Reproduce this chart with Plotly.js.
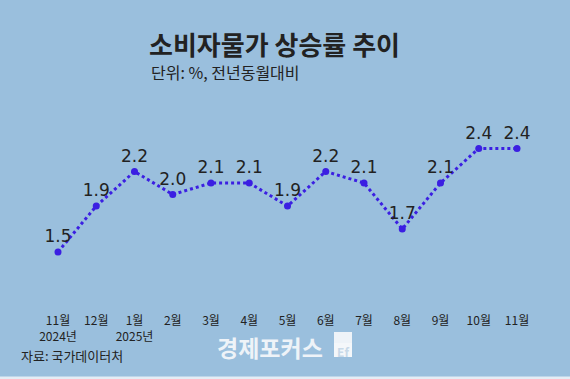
<!DOCTYPE html>
<html><head><meta charset="utf-8">
<script src="https://cdn.plot.ly/plotly-3.0.1.min.js"></script>
<style>html,body{margin:0;padding:0;background:#9abfdd;}</style>
</head><body><div id="chart" style="width:570px;height:379px;"></div>
<script>
const months = ["11월","12월","1월","2월","3월","4월","5월","6월","7월","8월","9월","10월","11월"];
const tickLabels = ["11월<br>2024년","12월","1월<br>2025년","2월","3월","4월","5월","6월","7월","8월","9월","10월","11월"];
const cpi = [1.5, 1.9, 2.2, 2.0, 2.1, 2.1, 1.9, 2.2, 2.1, 1.7, 2.1, 2.4, 2.4];
const idx = months.map((m,i)=>i);
const font = '"Noto Sans CJK KR", "Noto Sans", sans-serif';
const PH = 312; // plot height px
const py = p => 1 - p/PH;
const px = p => p/570;

const trace = {
  x: idx, y: cpi, type:'scatter', mode:'lines+markers+text',
  text: cpi.map(v=>v.toFixed(1)), textposition:'top center',
  textfont:{family:'"DejaVu Sans", sans-serif', size:17, color:'#222'},
  line:{color:'#3b1fe2', width:3, dash:'dot'},
  marker:{color:'#3b1fe2', size:7},
  hoverinfo:'skip', cliponaxis:false
};
const layout = {
  width:570, height:379,
  margin:{l:0, r:0, t:0, b:379-PH},
  paper_bgcolor:'#9abfdd', plot_bgcolor:'rgba(0,0,0,0)',
  showlegend:false,
  title:{text:'<b>소비자물가 상승률 추이</b>', font:{family:font, size:26, color:'#222'},
    xref:'container', yref:'container', x:149/570, xanchor:'left', y:1-46/379, yanchor:'middle'},
  xaxis:{range:[-58/38.25, -58/38.25 + 570/38.25], tickvals:idx, ticktext:tickLabels,
    showgrid:false, zeroline:false, showline:false, ticks:'', fixedrange:true,
    tickfont:{family:font, size:12, color:'#222'}},
  yaxis:{range:[1.5-(PH-252)/115, 1.5+252/115], visible:false, fixedrange:true},
  annotations:[
    {text:'단위: %, 전년동월대비', xref:'paper', yref:'paper', x:px(149), y:py(72), xanchor:'left', yanchor:'middle', showarrow:false, font:{family:font, size:16, color:'#222'}},
    {text:'자료: 국가데이터처', xref:'paper', yref:'paper', x:px(19), y:py(355), xanchor:'left', yanchor:'middle', showarrow:false, font:{family:font, size:13, color:'#222'}},
    {text:'<b>경제포커스</b>', xref:'paper', yref:'paper', x:px(215), y:py(347), xanchor:'left', yanchor:'middle', showarrow:false, font:{family:font, size:23, color:'#eef3f8'}},
    {text:'<b>Ef</b>', xref:'paper', yref:'paper', x:px(343), y:py(351), xanchor:'center', yanchor:'middle', showarrow:false, font:{family:font, size:12, color:'#c8d9e8'}}
  ],
  shapes:[
    {type:'rect', xref:'paper', yref:'paper', x0:px(334), x1:px(352), y0:py(332), y1:py(343), fillcolor:'#eef3f8', line:{width:0}, layer:'below'},
    {type:'rect', xref:'paper', yref:'paper', x0:px(334), x1:px(352), y0:py(343), y1:py(357), fillcolor:'#f4f7fa', line:{width:0}, layer:'below'},
    {type:'rect', xref:'paper', yref:'paper', x0:0, x1:1, y0:py(376.5), y1:py(380), fillcolor:'#e4edf5', line:{width:0}}
  ]
};
Plotly.newPlot('chart', [trace], layout, {displayModeBar:false, staticPlot:true});
</script></body></html>
